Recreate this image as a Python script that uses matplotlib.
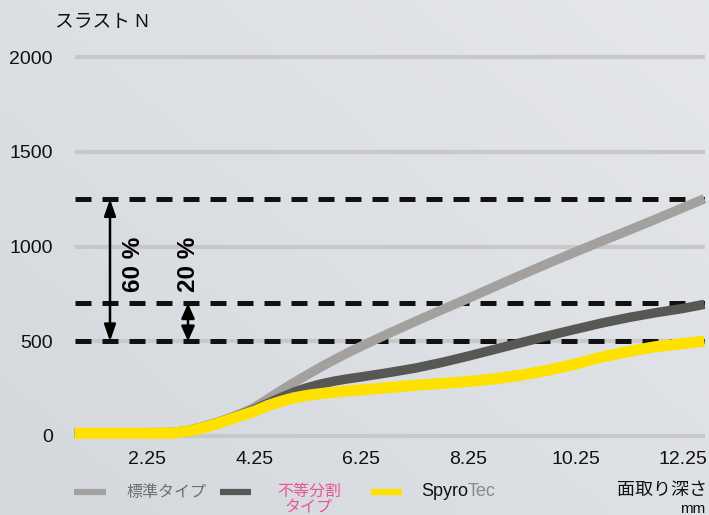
import numpy as np
import matplotlib
matplotlib.use("Agg")
import matplotlib.pyplot as plt
from matplotlib.lines import Line2D

plt.rcParams['font.family'] = ['Liberation Sans', 'Noto Sans CJK JP', 'DejaVu Sans']

# ---------------- data ----------------
depth = [0.9, 2.7, 3.0, 3.25, 3.5, 3.75, 4.0, 4.25, 4.5, 4.75, 5.0, 5.25, 5.5, 5.75, 6.0, 6.25,
         6.75, 7.25, 7.75, 8.25, 8.75, 9.25, 9.75, 10.25, 10.75, 11.25, 11.75, 12.25, 12.65]
thrust_standard = [15, 18, 28, 45, 66, 90, 118, 150, 195, 240, 283, 325, 365, 403, 440, 474,
                   540, 604, 666, 727, 790, 852, 913, 972, 1030, 1087, 1145, 1205, 1252]
thrust_unequal = [15, 18, 28, 44, 65, 88, 113, 140, 172, 203, 232, 256, 275, 290, 302, 312,
                  334, 358, 388, 422, 458, 494, 530, 564, 597, 626, 651, 673, 695]
thrust_spyrotec = [15, 15, 25, 40, 60, 83, 107, 130, 160, 183, 202, 215, 224, 231, 238, 243,
                   255, 268, 277, 288, 302, 322, 348, 380, 418, 447, 472, 488, 500]

x_ticks = [2.25, 4.25, 6.25, 8.25, 10.25, 12.25]
x_tick_labels = ["2.25", "4.25", "6.25", "8.25", "10.25", "12.25"]
y_ticks = [0, 500, 1000, 1500, 2000]
y_tick_labels = ["0", "500", "1000", "1500", "2000"]
ref_levels = [1250, 700, 500]
series_labels = ["標準タイプ", "不等分割\nタイプ", "SpyroTec"]
pct_labels = ["60 %", "20 %"]

c_light = "#a3a19f"
c_dark = "#575756"
c_yellow = "#ffe100"

W, H = 709, 515
fig = plt.figure(figsize=(W / 100, H / 100), dpi=100)

# background gradient
bg = fig.add_axes([0, 0, 1, 1], zorder=-10)
gx = np.linspace(0, 1, 200)
gy = np.linspace(0, 1, 200)
GX, GY = np.meshgrid(gx, gy)
t = 0.55 * GX + 0.45 * (1 - GY)
c0 = np.array([0xd4, 0xd8, 0xdd]) / 255
c1 = np.array([0xe5, 0xe7, 0xea]) / 255
img = c0[None, None, :] * (1 - t[..., None]) + c1[None, None, :] * t[..., None]
bg.imshow(img, aspect='auto', extent=[0, 1, 0, 1])
bg.axis('off')

# axes placement in pixels
px_left, px_right = 75, 705
ylo, yhi = -50, 2100
ppu = (436 - 57) / 2000.0
top_px = 57 - (yhi - 2000) * ppu
bot_px = 436 + (0 - ylo) * ppu
ax = fig.add_axes([px_left / W, 1 - bot_px / H, (px_right - px_left) / W, (bot_px - top_px) / H])
ax.patch.set_alpha(0)
xppu = 53.6
ax.set_xlim(2.25 - (147 - px_left) / xppu, 12.25 + (px_right - 683) / xppu)
ax.set_ylim(ylo, yhi)
for s in ax.spines.values():
    s.set_visible(False)

for yv in y_ticks:
    ax.axhline(yv, color="#c8c8c8", lw=3.0, zorder=1)
for yv in ref_levels:
    ax.axhline(yv, color="#111111", lw=3.6, linestyle=(0, (3.2, 2.2)), zorder=2,
               dash_capstyle='butt')

ax.plot(depth, thrust_standard, color=c_light, lw=6.8, solid_capstyle='butt',
        solid_joinstyle='round', zorder=3, clip_on=False)
ax.plot(depth, thrust_unequal, color=c_dark, lw=6.8, solid_capstyle='butt',
        solid_joinstyle='round', zorder=4, clip_on=False)
ax.plot(depth, thrust_spyrotec, color=c_yellow, lw=8.0, solid_capstyle='butt',
        solid_joinstyle='round', zorder=5, clip_on=False)

ax.set_xticks(x_ticks)
ax.set_xticklabels(x_tick_labels, fontsize=14, color="#111111")
ax.set_yticks(y_ticks)
ax.set_yticklabels(y_tick_labels, fontsize=14, color="#111111")
ax.tick_params(axis='x', length=0, pad=4)
ax.tick_params(axis='y', length=0, pad=16)

# arrows
def x_of(px):
    return 2.25 + (px - 147) / xppu

ax.annotate("", xy=(x_of(110), ref_levels[0]), xytext=(x_of(110), ref_levels[2]),
            arrowprops=dict(arrowstyle="<|-|>,head_length=1.0,head_width=0.35", color="black",
                            lw=1.8, shrinkA=0, shrinkB=0), zorder=6)
ax.annotate("", xy=(x_of(188), ref_levels[1]), xytext=(x_of(188), ref_levels[2]),
            arrowprops=dict(arrowstyle="<|-|>,head_length=0.9,head_width=0.4", color="black",
                            lw=1.8, shrinkA=0, shrinkB=0), zorder=6)
ax.text(x_of(134), 905, pct_labels[0], rotation=90, ha='center', va='center',
        fontsize=17.5, fontweight='bold', color="black")
ax.text(x_of(189), 905, pct_labels[1], rotation=90, ha='center', va='center',
        fontsize=17.5, fontweight='bold', color="black")

# y label
fig.text(55 / W, 1 - 22 / H, "スラスト N", fontsize=13.5, ha='left', va='center', color="#111111")

# legend
ly = 1 - 492 / H
for (x0, x1), col in [((74, 106), c_light), ((220, 251), c_dark), ((371, 402), c_yellow)]:
    fig.add_artist(Line2D([x0 / W, x1 / W], [ly, ly], color=col, lw=4.5, solid_capstyle='butt'))
fig.text(126 / W, ly, series_labels[0], fontsize=11.5, color="#6e6e6e", ha='left', va='center')
fig.text(309 / W, 1 - 499 / H, series_labels[1], fontsize=11.5, color="#e8559a", ha='center',
         va='center', linespacing=1.05)
t1 = fig.text(421 / W, ly, "Spyro", fontsize=13, color="#111111", ha='left', va='center')
fig.canvas.draw()
bb = t1.get_window_extent()
fig.text(bb.x1 / W, ly, "Tec", fontsize=13, color="#8a8a8a", ha='left', va='center')

fig.text(707 / W, 1 - 491 / H, "面取り深さ", fontsize=13, color="#111111", ha='right', va='center')
fig.text(705 / W, 1 - 509 / H, "mm", fontsize=11, color="#111111", ha='right', va='center')

fig.savefig("out.png", dpi=100)
